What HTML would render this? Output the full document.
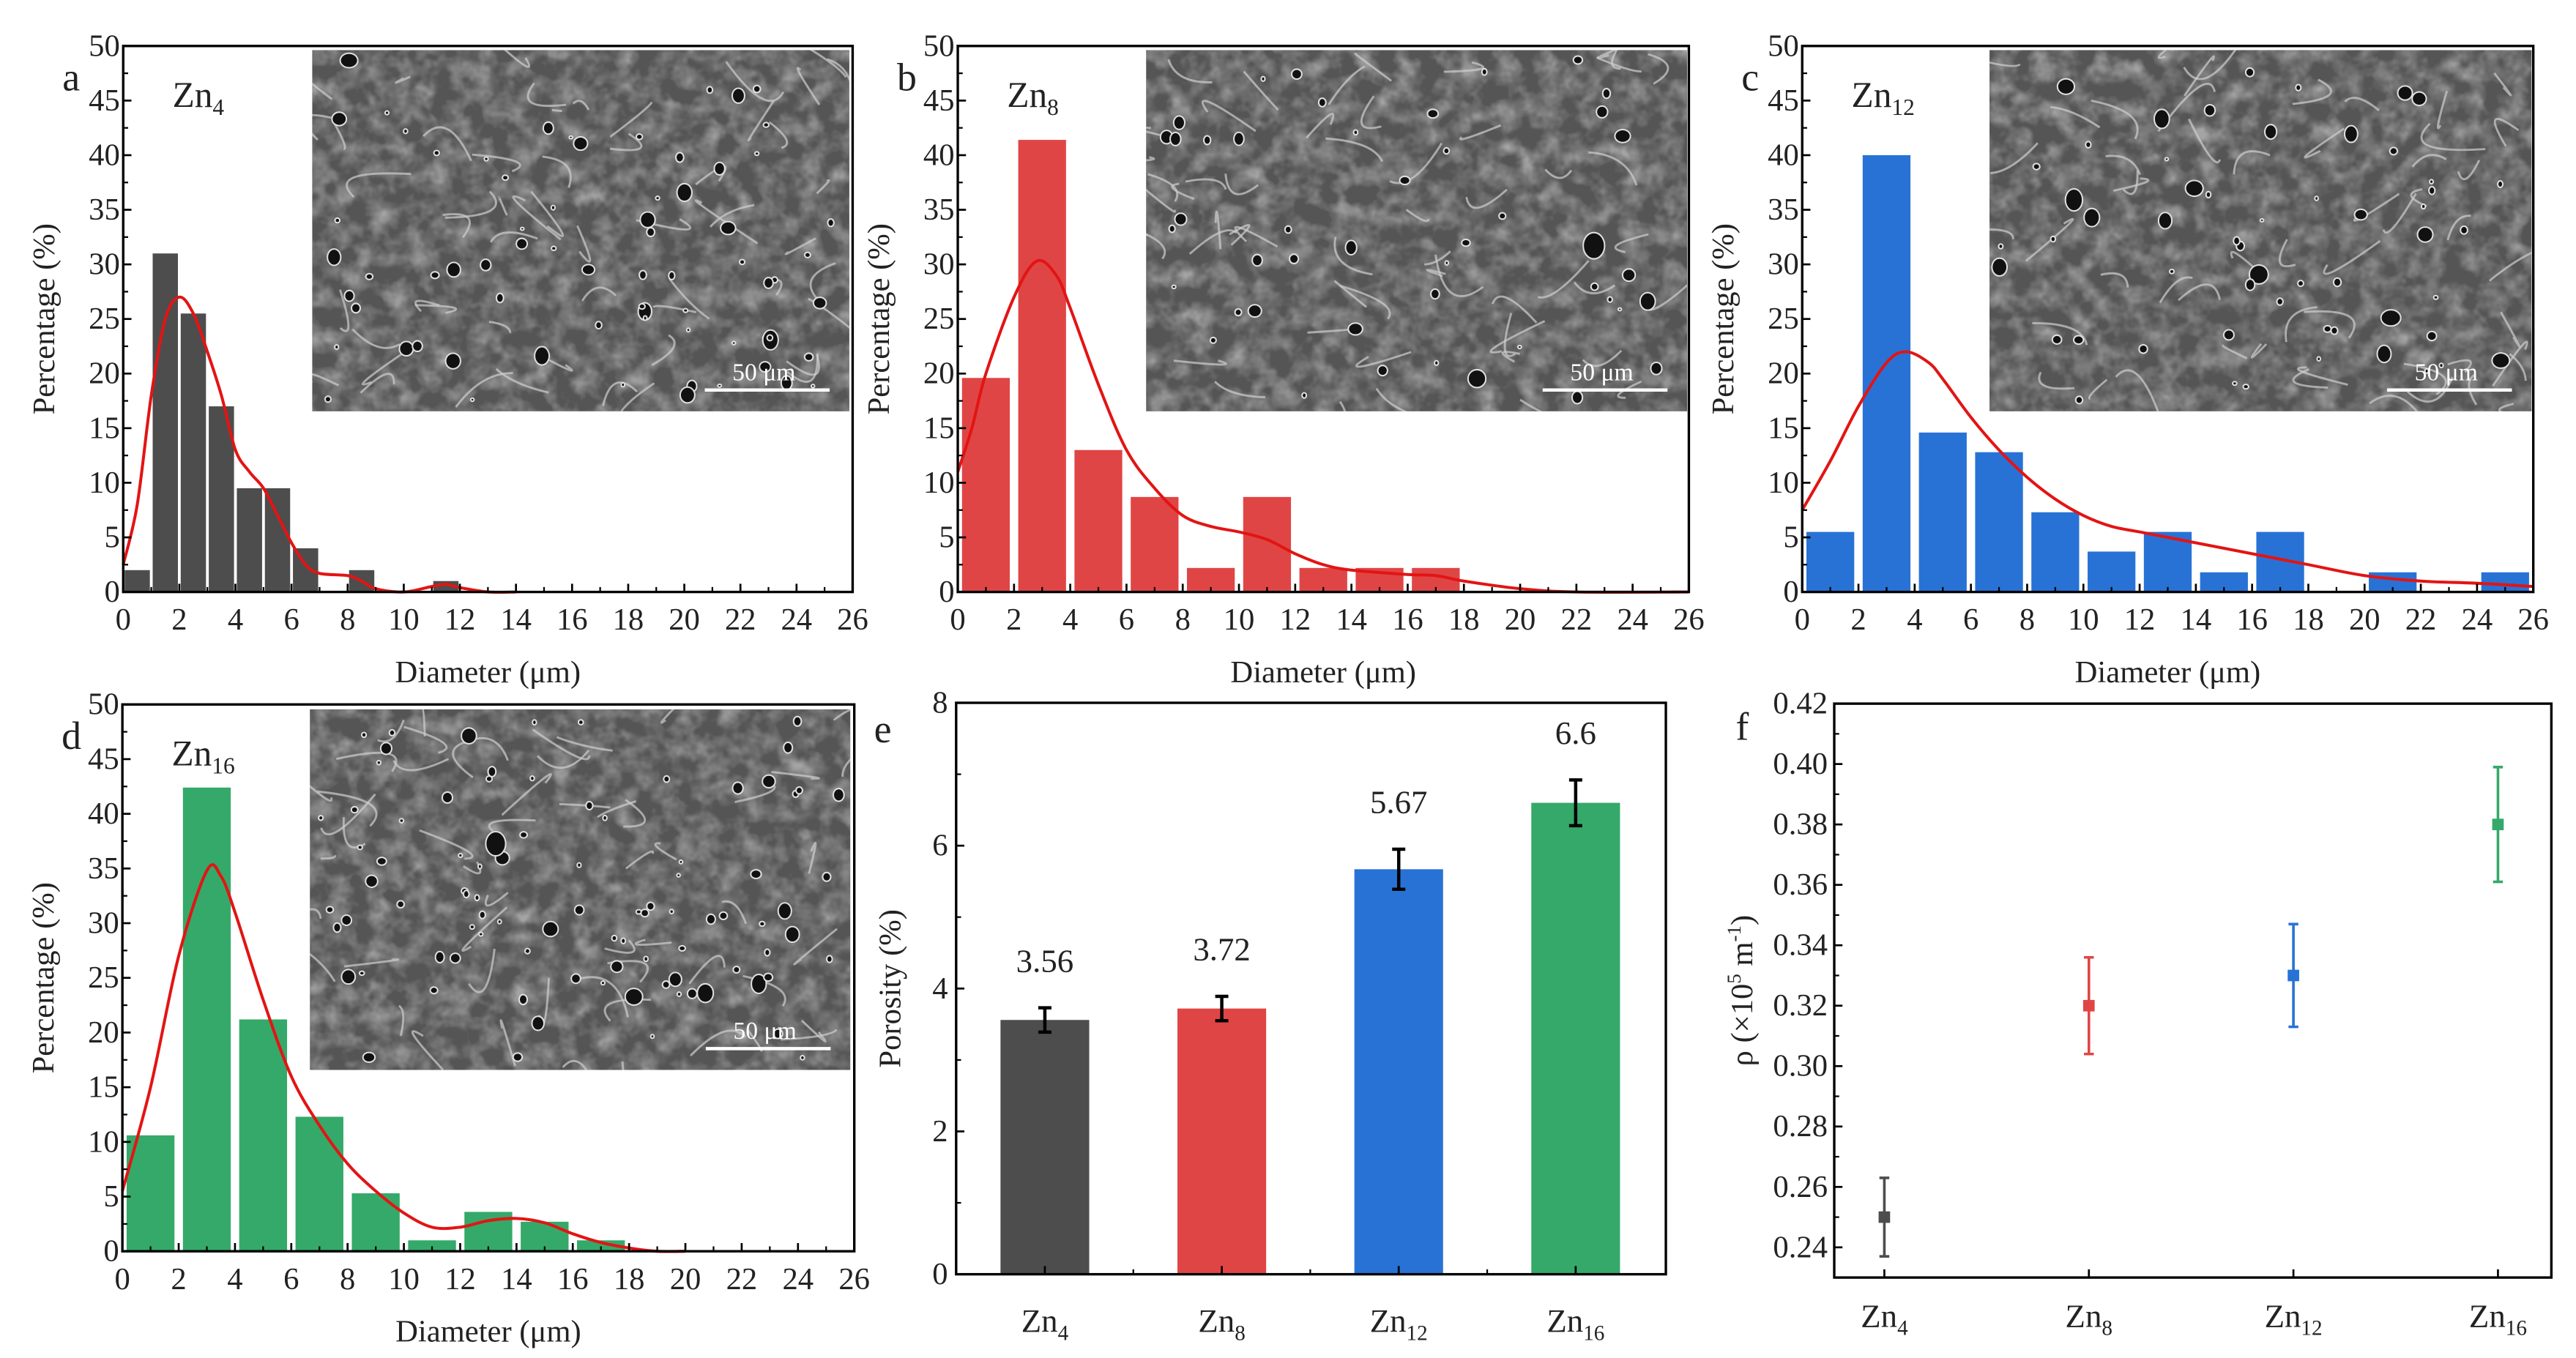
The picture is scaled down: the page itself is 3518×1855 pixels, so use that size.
<!DOCTYPE html>
<html><head><meta charset="utf-8">
<style>
html,body{margin:0;padding:0;background:#fff;}
svg{display:block;}
svg text{font-family:"Liberation Serif","DejaVu Serif",serif;fill:#222;}
</style></head>
<body>
<svg id="fig" xmlns="http://www.w3.org/2000/svg" width="3518" height="1855" viewBox="0 0 1568 827" preserveAspectRatio="none" font-family="Liberation Serif, DejaVu Serif, serif">
<defs>
<filter id="grain" x="0" y="0" width="1" height="1">
<feTurbulence type="fractalNoise" baseFrequency="0.08" numOctaves="3" seed="4" result="n"/>
<feColorMatrix in="n" type="matrix" values="0 0 0 0 0.48  0 0 0 0 0.48  0 0 0 0 0.48  1 1 1 0 -1.25" result="c"/>
<feComposite in="c" in2="SourceGraphic" operator="in"/>
</filter>
</defs>
</svg>
<script>
// ---------- data ----------
const histCenters_a = [0.5,1.5,2.5,3.5,4.5,5.5,6.5,7.5,8.5,9.5,10.5,11.5];
const histValues_a  = [2,31,25.5,17,9.5,9.5,4,0,2,0,0,1];
const curveX_a = [0,0.5,1,1.5,2,2.5,3,3.5,4,4.5,5,5.5,6,6.5,7,8,8.5,9,10,11,11.5,12,13,14];
const curveY_a = [2.5,8,18,25,27,25.5,22,18,13,11,9.5,7,4.5,2.5,1.7,1.5,1,0.3,0,0.5,0.7,0.4,0,0];

const histCenters_b = [1,3,5,7,9,11,13,15,17];
const histValues_b  = [19.6,41.4,13,8.7,2.2,8.7,2.2,2.2,2.2];
const curveX_b = [0,0.5,1,2,2.8,3.5,4,5,6,7,8,9,10,11,12,13,14,16,17,18,20,22,26];
const curveY_b = [11,15,20,27,30.3,29,26,19,13,9.5,7,6,5.5,4.8,3.5,2.5,2,1.6,1.5,1,0.3,0,0];

const histCenters_c = [1,3,5,7,9,11,13,15,17,19,21,23,25];
const histValues_c  = [5.5,40,14.6,12.8,7.3,3.7,5.5,1.8,5.5,0,1.8,0,1.8];
const curveX_c = [0,1,2,3,3.7,4.5,5,6,7,8,9,10,11,12,13,14,16,18,20,22,24,26];
const curveY_c = [7.5,12,17,21,22,21,19.5,16,13,10.5,8.5,7,6,5.5,5,4.5,3.5,2.5,1.5,1,0.8,0.5];

const histCenters_d = [1,3,5,7,9,11,13,15,17];
const histValues_d  = [10.6,42.4,21.2,12.3,5.3,1,3.6,2.7,1];
const curveX_d = [0,1,2,3,3.5,4,5,6,7,8,9,10,11,12,13,14,15,16,17,18,19,20];
const curveY_d = [5.5,15,27,34.8,34.3,31,23,16,11.5,8,5.5,3.5,2.2,2.2,2.8,3,2.6,1.6,0.8,0.3,0,0];

const xTicksHist = [0,2,4,6,8,10,12,14,16,18,20,22,24,26];
const yTicksHist = [0,5,10,15,20,25,30,35,40,45,50];

const categories = ["Zn4","Zn8","Zn12","Zn16"];
const catSubs = ["4","8","12","16"];
const porosity = [3.56,3.72,5.67,6.6];
const porosityErr = [0.17,0.17,0.28,0.32];
const porosityLabels = ["3.56","3.72","5.67","6.6"];
const yTicksE = [0,2,4,6,8];
const rho = [0.25,0.32,0.33,0.38];
const rhoErr = [0.013,0.016,0.017,0.019];
const yTicksF = [0.24,0.26,0.28,0.30,0.32,0.34,0.36,0.38,0.40,0.42];
const colors = ["#4d4d4d","#e04545","#2872d6","#35a96a"];

// ---------- helpers ----------
const NS="http://www.w3.org/2000/svg";
const svg=document.getElementById('fig');
const defs=svg.querySelector('defs');
function el(tag,attrs,parent){const e=document.createElementNS(NS,tag);for(const k in attrs)e.setAttribute(k,attrs[k]);(parent||svg).appendChild(e);return e;}
function txt(s,x,y,size,anchor,parent){const t=el('text',{x:x,y:y,'font-size':size,'text-anchor':anchor||'middle'},parent);t.textContent=s;return t;}
function lin(d0,d1,r0,r1){return v=>r0+(v-d0)/(d1-d0)*(r1-r0);}
function smoothPath(pts){let d=`M${pts[0][0]},${pts[0][1]}`;for(let i=0;i<pts.length-1;i++){const p0=pts[Math.max(0,i-1)],p1=pts[i],p2=pts[i+1],p3=pts[Math.min(pts.length-1,i+2)];const c1x=p1[0]+(p2[0]-p0[0])/6,c1y=p1[1]+(p2[1]-p0[1])/6,c2x=p2[0]-(p3[0]-p1[0])/6,c2y=p2[1]-(p3[1]-p1[1])/6;d+=` C${c1x},${c1y} ${c2x},${c2y} ${p2[0]},${p2[1]}`;}return d;}
let seed=7;function rnd(){seed=(seed*16807)%2147483647;return seed/2147483647;}
let clipN=0;

function semInset(g,x0,y0,x1,y1,holes){
  const id='clip'+(clipN++);
  const cp=el('clipPath',{id:id},defs);
  el('rect',{x:x0,y:y0,width:x1-x0,height:y1-y0},cp);
  const cg=el('g',{'clip-path':`url(#${id})`},g);
  el('rect',{x:x0,y:y0,width:x1-x0,height:y1-y0,fill:'#555'},cg);
  el('rect',{x:x0,y:y0,width:x1-x0,height:y1-y0,fill:'#888',filter:'url(#grain)',opacity:0.8},cg);
  for(let i=0;i<55;i++){const x=x0+rnd()*(x1-x0),y=y0+rnd()*(y1-y0);
    el('path',{d:`M${x},${y} q${(rnd()-0.5)*50},${(rnd()-0.5)*40} ${(rnd()-0.5)*70},${(rnd()-0.5)*50}`,stroke:'#cfcfcf','stroke-width':1.3,fill:'none',opacity:0.7},cg);}
  for(let i=0;i<holes;i++){const x=x0+6+rnd()*(x1-x0-12),y=y0+6+rnd()*(y1-y0-12),r=1+rnd()*rnd()*6;
    el('ellipse',{cx:x,cy:y,rx:r,ry:r*(0.8+rnd()*0.5),fill:'#111',stroke:'#e0e0e0','stroke-width':0.9},cg);}
  el('line',{x1:x1-88,y1:y1-13,x2:x1-12,y2:y1-13,stroke:'#fff','stroke-width':2},cg);
  const t=txt('50 μm',x1-52,y1-19,15,'middle',cg);t.setAttribute('fill','#fff');t.setAttribute('style','fill:#fff');
}

function histPanel(name,X0,X1,Y0,Y1,centers,vals,width,cx,cy,color,letter,sub,inset,holes){
  const g=el('g',{});
  
  
  const sx=lin(0,26,X0,X1), sy=lin(0,50,Y0,Y1);
  const bars=el('g',{},g);
  
  
  centers.forEach((c,i)=>{if(vals[i]<=0)return;
    const r=el('rect',{x:sx(c-width/2),y:sy(vals[i]),width:sx(width)-sx(0),height:sy(0)-sy(vals[i]),fill:color},bars);
    
    });
  const ig=el('g',{},g);
  
  
  semInset(ig,inset[0],inset[1],inset[2],inset[3],holes);
  const pts=cx.map((x,i)=>[sx(x),sy(cy[i])]);
  const cv=el('path',{d:smoothPath(pts),fill:'none',stroke:'#e31414','stroke-width':1.8},g);
  
  
  el('rect',{x:X0,y:Y1,width:X1-X0,height:Y0-Y1,fill:'none',stroke:'#000','stroke-width':1.5},g);
  xTicksHist.forEach(v=>{el('line',{x1:sx(v),x2:sx(v),y1:Y0,y2:Y0-5,stroke:'#000','stroke-width':1.2},g);
    if(v<26)el('line',{x1:sx(v+1),x2:sx(v+1),y1:Y0,y2:Y0-3,stroke:'#000','stroke-width':1},g);
    const t=txt(String(v),sx(v),Y0+23,19,'middle',g);});
  yTicksHist.forEach(v=>{el('line',{x1:X0,x2:X0+5,y1:sy(v),y2:sy(v),stroke:'#000','stroke-width':1.2},g);
    if(v<50)el('line',{x1:X0,x2:X0+3,y1:sy(v+2.5),y2:sy(v+2.5),stroke:'#000','stroke-width':1},g);
    const t=txt(String(v),X0-2,sy(v)+6,19,'end',g);});
  const xt=txt('Diameter (μm)',(X0+X1)/2,Y0+55,19,'middle',g);
  
  const yt=txt('Percentage (%)',0,0,19,'middle',g);yt.setAttribute('transform',`translate(${X0-42},${(Y0+Y1)/2}) rotate(-90)`);
  
  const lt=txt(letter,X0-37,Y1+27,24,'start',g);
  const zt=el('text',{x:X0+30,y:Y1+37,'font-size':22},g);zt.innerHTML='Zn<tspan font-size="14" dy="5">'+sub+'</tspan>';
  
}

histPanel('histogram-zn4',75,519,360.5,28,histCenters_a,histValues_a,0.9,curveX_a,curveY_a,colors[0],'a','4',[190,30.5,517,250.5],70);
histPanel('histogram-zn8',583,1028,360.5,28,histCenters_b,histValues_b,1.7,curveX_b,curveY_b,colors[1],'b','8',[697.6,30.5,1027,250.5],45);
histPanel('histogram-zn12',1097,1542,360.5,28,histCenters_c,histValues_c,1.7,curveX_c,curveY_c,colors[2],'c','12',[1211,30.5,1541,250.5],55);
histPanel('histogram-zn16',74.5,520,762,429,histCenters_d,histValues_d,1.7,curveX_d,curveY_d,colors[3],'d','16',[188.6,432,517.6,651.6],90);

// ---------- panel e ----------
(function(){
  const X0=582,X1=1014,Y0=776,Y1=428;
  const g=el('g',{});
  
  
  const sy=lin(0,8,Y0,Y1); const sx=i=>636+i*107.7;
  categories.forEach((c,i)=>{
    const r=el('rect',{x:sx(i)-27,y:sy(porosity[i]),width:54,height:sy(0)-sy(porosity[i]),fill:colors[i]},g);
    
    
    const t=sy(porosity[i]+porosityErr[i]),b=sy(porosity[i]-porosityErr[i]);
    const e=el('path',{d:`M${sx(i)},${t}V${b}M${sx(i)-4},${t}H${sx(i)+4}M${sx(i)-4},${b}H${sx(i)+4}`,stroke:'#000','stroke-width':2,fill:'none'},g);
    
    
    const v=txt(porosityLabels[i],sx(i),t-22,20,'middle',g);
    
    el('line',{x1:sx(i),x2:sx(i),y1:Y0,y2:Y0-5,stroke:'#000','stroke-width':1.2},g);
    if(i<3)el('line',{x1:sx(i)+53.85,x2:sx(i)+53.85,y1:Y0,y2:Y0-3,stroke:'#000','stroke-width':1},g);
    const l=el('text',{x:sx(i),y:Y0+35,'font-size':20,'text-anchor':'middle'},g);l.innerHTML='Zn<tspan font-size="13" dy="5">'+catSubs[i]+'</tspan>';
    
  });
  el('rect',{x:X0,y:Y1,width:X1-X0,height:Y0-Y1,fill:'none',stroke:'#000','stroke-width':1.5},g);
  yTicksE.forEach(v=>{el('line',{x1:X0,x2:X0+5,y1:sy(v),y2:sy(v),stroke:'#000','stroke-width':1.2},g);
    if(v<8)el('line',{x1:X0,x2:X0+3,y1:sy(v+1),y2:sy(v+1),stroke:'#000','stroke-width':1},g);
    const t=txt(String(v),X0-5,sy(v)+6,19,'end',g);});
  const yt=txt('Porosity (%)',0,0,19,'middle',g);yt.setAttribute('transform',`translate(${X0-34},${(Y0+Y1)/2}) rotate(-90)`);
  
  const lt=txt('e',X0-50,Y1+24,24,'start',g);
})();

// ---------- panel f ----------
(function(){
  const X0=1116.5,X1=1553,Y0=778,Y1=428.5;
  const g=el('g',{});
  
  
  const sy=lin(0.23,0.42,Y0,Y1); const sx=i=>1147+i*124.5;
  el('rect',{x:X0,y:Y1,width:X1-X0,height:Y0-Y1,fill:'none',stroke:'#000','stroke-width':1.5},g);
  categories.forEach((c,i)=>{
    const t=sy(rho[i]+rhoErr[i]),b=sy(rho[i]-rhoErr[i]);
    const e=el('path',{d:`M${sx(i)},${t}V${b}M${sx(i)-3},${t}H${sx(i)+3}M${sx(i)-3},${b}H${sx(i)+3}`,stroke:colors[i],'stroke-width':1.6,fill:'none'},g);
    
    
    const p=el('rect',{x:sx(i)-3.5,y:sy(rho[i])-3.5,width:7,height:7,fill:colors[i]},g);
    
    
    el('line',{x1:sx(i),x2:sx(i),y1:Y0,y2:Y0-5,stroke:'#000','stroke-width':1.2},g);
    const l=el('text',{x:sx(i),y:Y0+30,'font-size':20,'text-anchor':'middle'},g);l.innerHTML='Zn<tspan font-size="13" dy="5">'+catSubs[i]+'</tspan>';
    
  });
  yTicksF.forEach(v=>{el('line',{x1:X0,x2:X0+5,y1:sy(v),y2:sy(v),stroke:'#000','stroke-width':1.2},g);
    if(v<0.415)el('line',{x1:X0,x2:X0+3,y1:sy(v+0.01),y2:sy(v+0.01),stroke:'#000','stroke-width':1},g);
    const t=txt(v.toFixed(2),X0-4,sy(v)+6,19,'end',g);});
  const yt=el('text',{'font-size':19,'text-anchor':'middle',transform:`translate(${X0-50},${(Y0+Y1)/2}) rotate(-90)`},g);
  yt.innerHTML='ρ (×10<tspan font-size="12" dy="-7">5</tspan><tspan dy="7"> m</tspan><tspan font-size="12" dy="-7">-1</tspan><tspan dy="7">)</tspan>';
  
  const lt=txt('f',X0-60,Y1+22,24,'start',g);
})();
</script>
</body></html>
